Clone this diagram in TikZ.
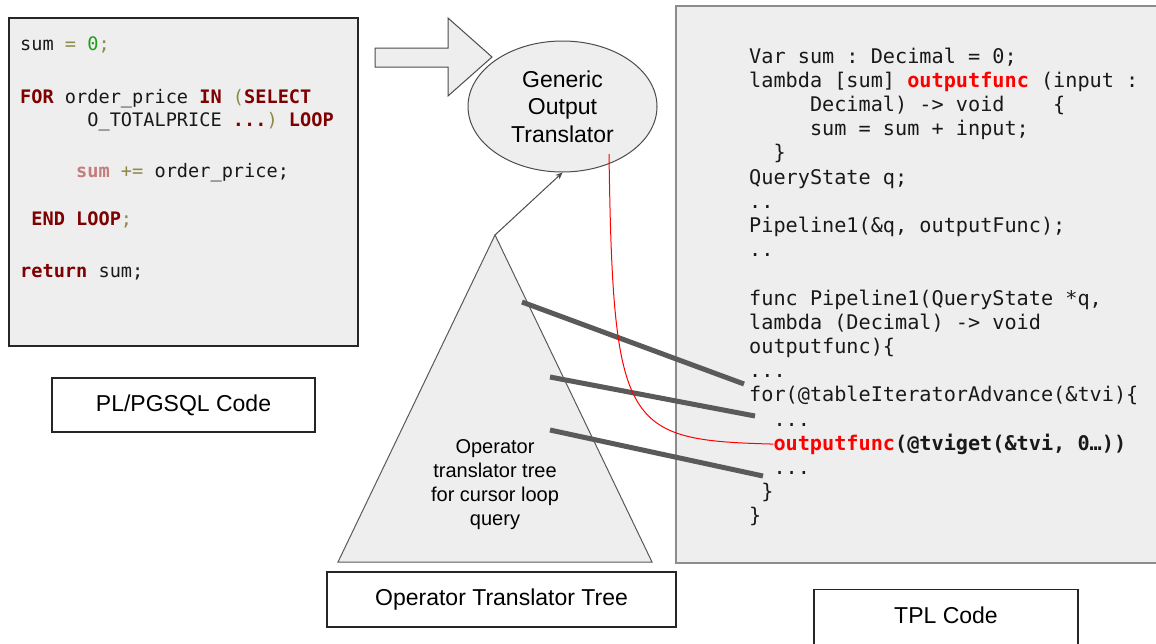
\documentclass[tikz,border=0pt]{standalone}
\usepackage{fontspec}
\setmainfont{Liberation Sans}
\newfontfamily\codefont{DejaVu Sans Mono}
\usetikzlibrary{arrows.meta,shapes.geometric}
\definecolor{panel}{HTML}{EEEEEE}
\definecolor{kw}{HTML}{7F0000}
\definecolor{op}{HTML}{8C8A45}
\definecolor{num}{HTML}{1E9E1E}
\definecolor{var}{HTML}{C47C7C}
\definecolor{link}{HTML}{5A5A5A}
\definecolor{hl}{HTML}{FF0000}
\newcommand\kwd[1]{\textcolor{kw}{\bfseries #1}}
\newcommand\opr[1]{\textcolor{op}{#1}}
\newcommand\gap[1]{\hspace*{#1\fontcharwd\font`0}}
\frenchspacing
\begin{document}
\begin{tikzpicture}[x=1pt,y=-1pt,
  lcode/.style={anchor=base west,inner sep=0pt,text=black!90,
    font=\codefont\fontsize{18.6}{22}\selectfont},
  rcode/.style={anchor=base west,inner sep=0pt,text=black!90,
    font=\codefont\fontsize{20.2}{24}\selectfont},
  labelbox/.style={draw=black!85,line width=1.2pt,fill=white,inner sep=0pt,
    font=\fontsize{23}{27}\selectfont},
  panelbox/.style={fill=panel,line width=1.3pt},
  shapefill/.style={fill=panel,draw=black!65,line width=1pt},
  thick link/.style={draw=link,line width=5pt},
  flow/.style={draw=hl,line width=1pt}]
\clip (0,0) rectangle (1156,643);
\fill[white] (0,0) rectangle (1156,643);

% ---------- PL/pgSQL source panel ----------
\draw[panelbox,draw=black!85] (9,18) rectangle (358,346);
\node[lcode] (p1) at (20,50) {sum \opr{=} \textcolor{num}{0}\opr{;}};
\node[lcode] (p2) at (20,103) {\kwd{FOR} order\_price \kwd{IN} \opr{(}\kwd{SELECT}};
\node[lcode] (p3) at (87.2,126) {O\_TOTALPRICE \kwd{...}\opr{)} \kwd{LOOP}};
\node[lcode] (p4) at (76,177) {\textcolor{var}{\bfseries sum} \opr{+=} order\_price;};
\node[lcode] (p5) at (31.2,225) {\kwd{END LOOP}\opr{;}};
\node[lcode] (p6) at (20,277) {\kwd{return} sum;};

\node[labelbox,minimum width=263pt,minimum height=54pt] (plcap) at (183.5,405) {PL/PGSQL Code};

% ---------- generic output translator ----------
\draw[shapefill,draw=black!70] (375,48) -- (448,48) -- (448,18) -- (492,57)
  -- (448,96) -- (448,67) -- (375,67) -- cycle;
\node[ellipse,shapefill,draw=black!70,minimum width=189pt,minimum height=131pt,
  inner sep=0pt,align=center,font=\fontsize{23}{27.5}\selectfont] (gen)
  at (562.5,106.5) {Generic\\Output\\Translator};

% ---------- operator translator tree ----------
\coordinate (apex) at (495,235);
\draw[shapefill] (apex) -- (338,562) -- (652,562) -- cycle;
\node[align=center,inner sep=0pt,font=\fontsize{20}{24}\selectfont] (tritext)
  at (495,484.5) {Operator\\translator tree\\for cursor loop\\query};
\draw[draw=black!70,line width=1pt,-{Stealth[length=7pt,width=6pt]}] (apex) -- (gen.south);

\node[labelbox,minimum width=349pt,minimum height=55pt] (optcap) at (501.5,599.5) {Operator Translator Tree};

% ---------- TPL output panel ----------
\draw[panelbox,draw=black!45] (676,6) rectangle (1170,563);
\node[rcode] (r0)  at (749,63)    {Var sum : Decimal = 0;};
\node[rcode] (r1)  at (749,87.2)  {lambda [sum] \textcolor{hl}{\bfseries outputfunc} (input :};
\node[rcode] (r2)  at (809.8,111.4) {Decimal) -> void\gap{4}\{};
\node[rcode] (r3)  at (809.8,135.6) {sum = sum + input;};
\node[rcode] (r4)  at (773.3,159.8) {\}};
\node[rcode] (r5)  at (749,184)   {QueryState q;};
\node[rcode] (r6)  at (749,208.2) {..};
\node[rcode] (r7)  at (749,232.4) {Pipeline1(\&q, outputFunc);};
\node[rcode] (r8)  at (749,256.6) {..};
\node[rcode] (r10) at (749,305)   {func Pipeline1(QueryState *q,};
\node[rcode] (r11) at (749,329.2) {lambda (Decimal) -> void};
\node[rcode] (r12) at (749,353.4) {outputfunc)\{};
\node[rcode] (r13) at (749,377.6) {...};
\node[rcode] (r14) at (749,401.8) {for(@tableIteratorAdvance(\&tvi)\{};
\node[rcode] (r15) at (773.3,426) {...};
\node[rcode] (r16) at (773.3,450.2) {\bfseries\textcolor{hl}{outputfunc}(@tviget(\&tvi, 0…))};
\node[rcode] (r17) at (773.3,474.4) {...};
\node[rcode] (r18) at (761.2,498.6) {\}};
\node[rcode] (r19) at (749,522.8) {\}};

\node[labelbox,minimum width=264pt,minimum height=62pt,anchor=north] (tplbox) at (946,589) {};
\node[inner sep=0pt,font=\fontsize{23}{27}\selectfont] (tplcap) at (946,615) {TPL Code};

% ---------- links from the tree into the generated code ----------
\coordinate (t1) at (522,302);
\coordinate (t2) at (550,377);
\coordinate (t3) at (550,430);
\coordinate (c1) at (744,384);
\coordinate (c2) at (755,416);
\coordinate (c3) at (763,476);
\draw[thick link] (t1) -- (c1);
\draw[thick link] (t2) -- (c2);
\draw[thick link] (t3) -- (c3);

\coordinate (gs) at (609,154);
\draw[flow] (gs) .. controls (613,430) and (625,440) .. (r16.west);
\end{tikzpicture}
\end{document}
